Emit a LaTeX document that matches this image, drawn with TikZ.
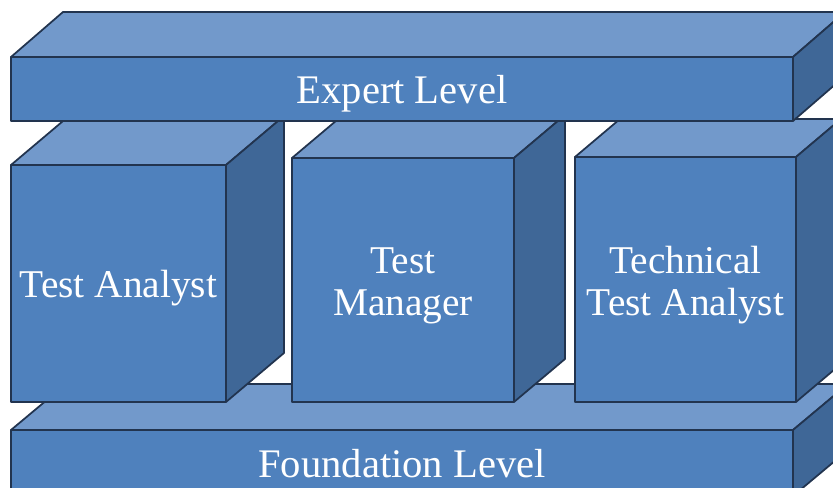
\documentclass[tikz,border=0pt]{standalone}
\usepackage{fontspec}
\setmainfont{Liberation Serif}
\usetikzlibrary{calc}

\definecolor{frontblue}{HTML}{4F81BD}
\definecolor{topblue}{HTML}{7299CB}
\definecolor{sideblue}{HTML}{3F6797}
\definecolor{edgeblue}{HTML}{22344F}

\tikzset{
  face/.style={draw=edgeblue, line width=0.5pt, line join=round},
  front/.style={face, fill=frontblue, inner sep=0pt, outer sep=0pt},
  topface/.style={face, fill=topblue},
  sideface/.style={face, fill=sideblue},
  lbl/.style={text=white, align=center, inner sep=0pt, font=\fontsize{11.2}{12}\selectfont},
  slablbl/.style={lbl, font=\fontsize{11.55}{12}\selectfont},
}

\begin{document}
\begin{tikzpicture}
\clip (0,0) rectangle (8.33,4.88);

% bottom slab
\node[front, minimum width=7.82cm, minimum height=0.66cm] (found) at (4.02,0.25) {};
\draw[topface] (found.north west) -- ++(0.55,0.46) -- ($(found.north east)+(0.55,0.46)$) -- (found.north east) -- cycle;
\draw[sideface] (found.north east) -- ++(0.55,0.46) -- ($(found.south east)+(0.55,0.46)$) -- (found.south east) -- cycle;
\node[slablbl] (found-txt) at ($(found.center)+(0,-0.01)$) {Foundation Level};

% the three blocks
\node[front, minimum width=2.21cm, minimum height=2.45cm] (tta) at (6.855,2.085) {};
\draw[topface] (tta.north west) -- ++(0.45,0.38) -- ($(tta.north east)+(0.45,0.38)$) -- (tta.north east) -- cycle;
\draw[sideface] (tta.north east) -- ++(0.45,0.38) -- ($(tta.south east)+(0.45,0.38)$) -- (tta.south east) -- cycle;
\node[lbl] (tta-txt) at ($(tta.center)+(0,-0.055)$) {Technical\\Test Analyst};

\node[front, minimum width=2.22cm, minimum height=2.44cm] (tm) at (4.03,2.08) {};
\draw[topface] (tm.north west) -- ++(0.51,0.43) -- ($(tm.north east)+(0.51,0.43)$) -- (tm.north east) -- cycle;
\draw[sideface] (tm.north east) -- ++(0.51,0.43) -- ($(tm.south east)+(0.51,0.43)$) -- (tm.south east) -- cycle;
\node[lbl] (tm-txt) at ($(tm.center)+(0,-0.055)$) {Test\\Manager};

\node[front, minimum width=2.15cm, minimum height=2.37cm] (ta) at (1.185,2.045) {};
\draw[topface] (ta.north west) -- ++(0.58,0.49) -- ($(ta.north east)+(0.58,0.49)$) -- (ta.north east) -- cycle;
\draw[sideface] (ta.north east) -- ++(0.58,0.49) -- ($(ta.south east)+(0.58,0.49)$) -- (ta.south east) -- cycle;
\node[lbl] (ta-txt) at ($(ta.center)+(0,-0.05)$) {Test Analyst};

% top slab
\node[front, minimum width=7.82cm, minimum height=0.64cm] (expert) at (4.02,3.99) {};
\draw[topface] (expert.north west) -- ++(0.52,0.45) -- ($(expert.north east)+(0.52,0.45)$) -- (expert.north east) -- cycle;
\draw[sideface] (expert.north east) -- ++(0.52,0.45) -- ($(expert.south east)+(0.52,0.45)$) -- (expert.south east) -- cycle;
\node[slablbl] (expert-txt) at ($(expert.center)+(0,-0.05)$) {Expert Level};

\end{tikzpicture}
\end{document}
